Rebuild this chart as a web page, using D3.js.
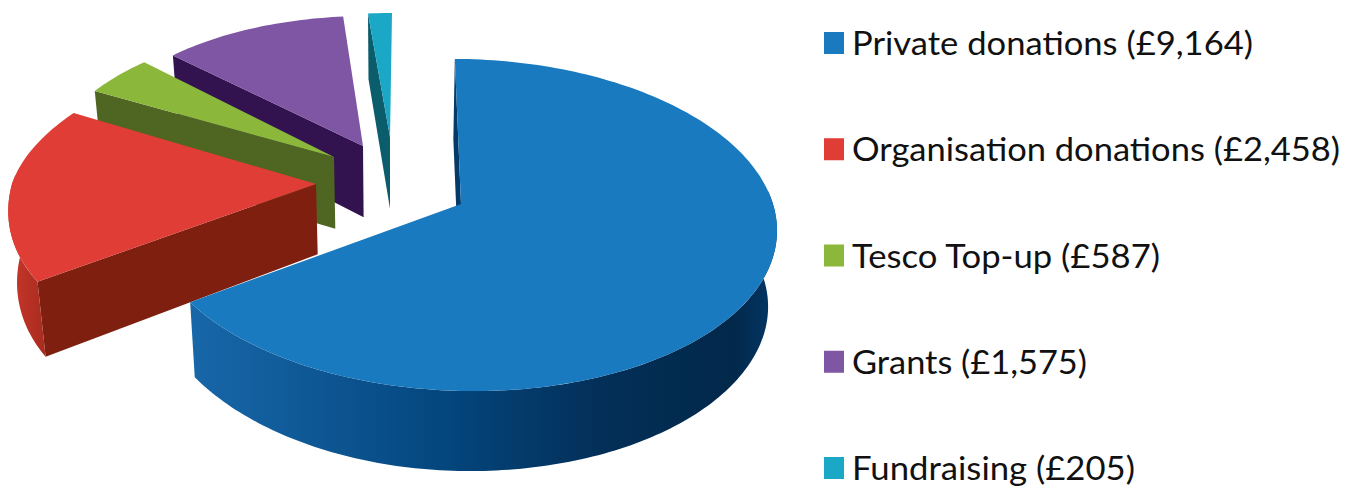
<!DOCTYPE html>
<html>
<head>
<meta charset="utf-8">
<style>
html,body{margin:0;padding:0;background:#fff}
svg{display:block}
text{font-family:Lato,"Noto Sans",sans-serif;fill:#111}
</style>
<script src="https://cdn.jsdelivr.net/npm/d3@7/dist/d3.min.js"></script>
</head>
<body>
<svg id="chart" width="1357" height="490"></svg>
<script>
// Income by source, in pounds
const categories = ["Private donations","Organisation donations","Tesco Top-up","Grants","Fundraising"];
const amounts = [9164,2458,587,1575,205];
const topColours = ["#1a7abf","#df3d36","#8bb83b","#7f56a3","#1aa8c6"];
const edgeColours = ["#03447c","#7e1f10","#4f6522","#33134f","#0c5d6c"];
const labelWidths = [401,488,308,235,283];

// Exploded layout for the four pulled-out wedges: where each tip lands and how its plane is foreshortened.
// [tipX, tipY, radiusX, shear, radiusBack, radiusFront, depthBase]
const wedgeFrames = [
  null,
  [316,184,304,48,146,174,61],
  [334,157,286,22,136,150,64],
  [363,146,270, 5,130,150,64],
  [390,137,261, 2,124,150,65]
];
// The large wedge sits nearest the viewer, so its rim is a full perspective ellipse.
const mainTip = [461,204];
const mainRim = {cx:463, cy:225, rx:314, ry:166, tilt:0.018, turn:1.0254, start:-0.026};

const svg = d3.select("#chart");
const defs = svg.append("defs");

const blueWall = defs.append("linearGradient").attr("id","blueWall")
  .attr("gradientUnits","userSpaceOnUse").attr("x1",190).attr("x2",780).attr("y1",0).attr("y2",0);
[[0,"#1867a8"],[0.2,"#0f5896"],[0.42,"#04477f"],[0.7,"#032f58"],[0.92,"#02284a"],[1,"#03396a"]]
  .forEach(([o,c])=>blueWall.append("stop").attr("offset",o).attr("stop-color",c));

const redRim = defs.append("linearGradient").attr("id","redRim")
  .attr("gradientUnits","userSpaceOnUse").attr("x1",10).attr("x2",48).attr("y1",0).attr("y2",0);
[[0,"#c9372c"],[1,"#a52a1e"]]
  .forEach(([o,c])=>redRim.append("stop").attr("offset",o).attr("stop-color",c));

const arcs = d3.pie().sort(null).value(d=>d)(amounts);
const outline = d3.line().x(d=>d[0]).y(d=>d[1]);

// Point on a wedge's top face at angle a (clockwise from north), r in 0..1
function onTop(i, a, r){
  if(i===0){
    if(r===0) return mainTip.slice();
    const t = mainRim.start + a*mainRim.turn;
    const x = mainRim.cx + mainRim.rx*Math.sin(t);
    return [x, mainRim.cy - mainRim.ry*Math.cos(t) + mainRim.tilt*(x-mainRim.cx)];
  }
  const [tx,ty,rx,shear,rb,rf] = wedgeFrames[i];
  const u = r*Math.sin(a), v = r*Math.cos(a);
  return [tx + rx*u + shear*v, ty - v*(v>=0?rb:rf)];
}
// The matching point on the underside, pulled toward the vanishing point
function below(i, p){
  const x = p[0]-0.023*(p[0]-390);
  if(i===0){
    const t = p[0]<440 ? (440-p[0])/248 : (p[0]-440)/340;
    const loss = p[0]<440 ? 5 : 4;
    return [x, p[1]+80-loss*t*t];
  }
  return [x, p[1]+wedgeFrames[i][6]+0.05*p[1]];
}
function rimPoints(i,a0,a1){
  const n = Math.max(2,Math.ceil(Math.abs(a1-a0)/0.02));
  return d3.range(n+1).map(k=>onTop(i,a0+(a1-a0)*k/n,1));
}
function wall(i,pts){
  return outline(pts.concat(pts.map(p=>below(i,p)).reverse()))+"Z";
}

const chart = svg.append("g");
// Painted from the back of the scene forward
[4,3,2,1,0].forEach(i=>{
  const arc = arcs[i];
  const tip = onTop(i,0,0);
  const corner = onTop(i,arc.startAngle,1);
  const g = chart.append("g");

  // Cut face between the tip and the wedge's first corner
  g.append("path").attr("fill",i===0?"#033a68":edgeColours[i]).attr("d",wall(i,[corner,tip]));

  // Outer walls that face the viewer
  if(i===0){
    g.append("path").attr("fill","url(#blueWall)")
      .attr("d",wall(i,rimPoints(i,Math.PI*0.42,arc.endAngle)));
  } else if(i===1){
    g.append("path").attr("fill","url(#redRim)")
      .attr("d",wall(i,rimPoints(i,arc.startAngle,Math.PI*1.52)));
  }

  g.append("path").attr("fill",topColours[i])
    .attr("d",outline([tip].concat(rimPoints(i,arc.startAngle,arc.endAngle)))+"Z");
});

// Legend
const legendY = d3.scalePoint().domain(categories).range([43,468]);
const fmt = d3.format(",");
const legend = svg.append("g");
categories.forEach((c,i)=>{
  const y = legendY(c);
  legend.append("rect").attr("x",824).attr("y",y-11).attr("width",20).attr("height",22).attr("fill",topColours[i]);
  legend.append("text").attr("x",852).attr("y",y+12).attr("font-size",33)
    .attr("textLength",labelWidths[i]).attr("lengthAdjust","spacingAndGlyphs")
    .text(`${c} (£${fmt(amounts[i])})`);
});
</script>
</body>
</html>
